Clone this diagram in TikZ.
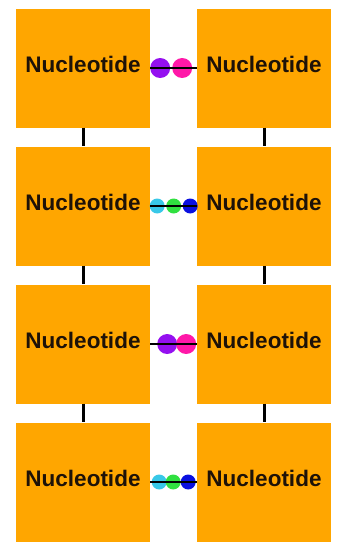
\documentclass[tikz,border=0pt]{standalone}
\usepackage{fontspec}
\setmainfont{Liberation Sans}
\usepackage{tikz}
\usetikzlibrary{positioning,calc}
\definecolor{amber}{HTML}{FFA600}
\definecolor{inkbrown}{HTML}{1E1208}
\definecolor{violetbase}{HTML}{9410F0}
\definecolor{pinkbase}{HTML}{FF18A8}
\definecolor{cyanbase}{HTML}{38C8E8}
\definecolor{greenbase}{HTML}{30E040}
\definecolor{bluebase}{HTML}{0A10E0}
\tikzstyle{nucleotide}=[rectangle, fill=amber, inner sep=0pt, minimum width=134pt, minimum height=119pt, text depth=8pt, font=\fontsize{22.5}{26}\selectfont\bfseries, text=inkbrown]
\tikzstyle{basebead}=[circle, inner sep=0pt, minimum size=20pt]
\tikzstyle{smallbead}=[basebead, minimum size=15pt]
\tikzstyle{bond}=[draw=black, line width=2.5pt]
\tikzstyle{backbone}=[draw=black, line width=3pt]

\begin{document}
\begin{tikzpicture}[x=1pt,y=-1pt]

    \def\rowdist{138}
    \def\leftx{83}
    \def\rightx{264}

    % canvas
    \useasboundingbox (0,0) rectangle (341,542);

    % nucleotides
    \foreach \r in {1,...,4} {
        \node[nucleotide] (L\r) at ({\leftx}, {68+(\r-1)*\rowdist}) {Nucleotide};
        \node[nucleotide] (R\r) at ({\rightx}, {68+(\r-1)*\rowdist}) {Nucleotide};
    }

    % backbone
    \foreach \r/\s in {1/2, 2/3, 3/4} {
        \draw[backbone] (L\r.south) -- (L\s.north);
        \draw[backbone] (R\r.south) -- (R\s.north);
    }

    % base pairs, two beads
    \node[basebead, fill=violetbase] (p1a) at ($(L1.east)+(10,0)$) {};
    \node[basebead, fill=pinkbase] (p1b) at ($(p1a)+(22,0)$) {};
    \node[basebead, fill=violetbase] (p3a) at ($(L3.east)+(17,0)$) {};
    \node[basebead, fill=pinkbase] (p3b) at ($(p3a)+(19,0)$) {};

    % base pairs, three beads
    \node[smallbead, fill=cyanbase] (p2a) at ($(L2.east)+(7,0)$) {};
    \node[smallbead, fill=greenbase] (p2b) at ($(p2a)+(16.5,0)$) {};
    \node[smallbead, fill=bluebase] (p2c) at ($(p2b)+(16.5,0)$) {};
    \node[smallbead, fill=cyanbase] (p4a) at ($(L4.east)+(9,0)$) {};
    \node[smallbead, fill=greenbase] (p4b) at ($(p4a)+(14,0)$) {};
    \node[smallbead, fill=bluebase] (p4c) at ($(p4b)+(15,0)$) {};

    % hydrogen bonds
    \foreach \r in {1,...,4}
        \draw[bond] (L\r.east) -- (R\r.west);

\end{tikzpicture}
\end{document}
